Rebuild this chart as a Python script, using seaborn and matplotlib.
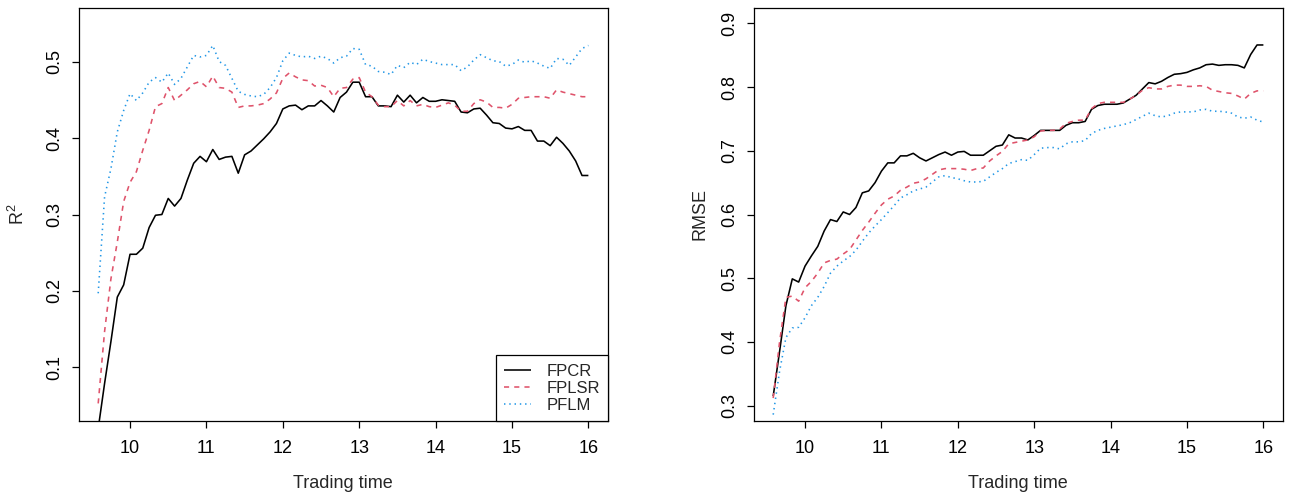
import numpy as np
import pandas as pd
import matplotlib
matplotlib.use("Agg")
import matplotlib.pyplot as plt
import seaborn as sns

# ---------------- data ----------------
# trading time grid: 9:35 to 16:00 every 5 minutes (decimal hours)
trading_time = np.arange(575, 961, 5) / 60.0

fpcr_r2 = [0.020, 0.079, 0.134, 0.192, 0.208, 0.248, 0.248, 0.256, 0.283, 0.299,
           0.300, 0.321, 0.311, 0.321, 0.345, 0.367, 0.376, 0.369, 0.385, 0.372,
           0.375, 0.376, 0.354, 0.378, 0.383, 0.391, 0.399, 0.408, 0.419, 0.438,
           0.442, 0.443, 0.437, 0.442, 0.442, 0.449, 0.442, 0.434, 0.453, 0.460,
           0.473, 0.473, 0.454, 0.454, 0.442, 0.442, 0.441, 0.456, 0.447, 0.456,
           0.446, 0.453, 0.448, 0.448, 0.450, 0.449, 0.448, 0.434, 0.433, 0.438,
           0.439, 0.430, 0.420, 0.419, 0.413, 0.412, 0.415, 0.410, 0.410, 0.396,
           0.396, 0.390, 0.401, 0.393, 0.383, 0.370, 0.351, 0.351]

fplsr_r2 = [0.053, 0.147, 0.216, 0.264, 0.317, 0.342, 0.356, 0.384, 0.410, 0.441,
            0.445, 0.466, 0.449, 0.456, 0.463, 0.471, 0.474, 0.467, 0.481, 0.466,
            0.465, 0.460, 0.440, 0.442, 0.442, 0.443, 0.445, 0.451, 0.459, 0.478,
            0.485, 0.480, 0.476, 0.475, 0.468, 0.469, 0.466, 0.454, 0.465, 0.466,
            0.477, 0.479, 0.460, 0.454, 0.443, 0.441, 0.441, 0.449, 0.442, 0.449,
            0.442, 0.444, 0.441, 0.440, 0.443, 0.446, 0.443, 0.435, 0.435, 0.445,
            0.450, 0.447, 0.440, 0.440, 0.439, 0.444, 0.452, 0.453, 0.454, 0.454,
            0.454, 0.452, 0.463, 0.460, 0.458, 0.456, 0.454, 0.454]

pflm_r2 = [0.197, 0.323, 0.360, 0.408, 0.436, 0.458, 0.449, 0.459, 0.473, 0.479,
           0.473, 0.485, 0.470, 0.478, 0.493, 0.508, 0.506, 0.508, 0.521, 0.500,
           0.495, 0.478, 0.461, 0.457, 0.455, 0.454, 0.457, 0.466, 0.479, 0.501,
           0.511, 0.508, 0.506, 0.507, 0.504, 0.507, 0.504, 0.498, 0.505, 0.507,
           0.517, 0.516, 0.496, 0.494, 0.487, 0.486, 0.483, 0.495, 0.492, 0.499,
           0.496, 0.503, 0.500, 0.498, 0.496, 0.496, 0.496, 0.488, 0.493, 0.502,
           0.509, 0.505, 0.501, 0.500, 0.494, 0.496, 0.502, 0.499, 0.501, 0.498,
           0.494, 0.491, 0.504, 0.503, 0.495, 0.506, 0.517, 0.521]

fpcr_rmse = [0.315, 0.385, 0.457, 0.499, 0.494, 0.519, 0.535, 0.550, 0.574, 0.592,
             0.589, 0.604, 0.600, 0.611, 0.634, 0.637, 0.650, 0.668, 0.681, 0.681,
             0.692, 0.692, 0.696, 0.689, 0.684, 0.689, 0.694, 0.698, 0.693, 0.698,
             0.699, 0.693, 0.693, 0.693, 0.700, 0.707, 0.709, 0.725, 0.720, 0.720,
             0.717, 0.724, 0.732, 0.732, 0.732, 0.732, 0.740, 0.744, 0.744, 0.746,
             0.765, 0.771, 0.773, 0.773, 0.773, 0.775, 0.781, 0.787, 0.797, 0.807,
             0.805, 0.809, 0.815, 0.820, 0.821, 0.823, 0.827, 0.830, 0.835, 0.836,
             0.834, 0.835, 0.835, 0.834, 0.830, 0.851, 0.866, 0.866]

fplsr_rmse = [0.312, 0.400, 0.470, 0.472, 0.464, 0.485, 0.495, 0.508, 0.524, 0.528,
              0.530, 0.538, 0.545, 0.560, 0.575, 0.588, 0.602, 0.615, 0.624, 0.629,
              0.638, 0.643, 0.649, 0.651, 0.656, 0.663, 0.670, 0.672, 0.672, 0.672,
              0.671, 0.669, 0.672, 0.673, 0.684, 0.692, 0.699, 0.711, 0.713, 0.715,
              0.717, 0.722, 0.731, 0.732, 0.732, 0.734, 0.743, 0.746, 0.748, 0.748,
              0.766, 0.774, 0.776, 0.776, 0.776, 0.776, 0.781, 0.787, 0.795, 0.799,
              0.797, 0.797, 0.801, 0.803, 0.803, 0.801, 0.801, 0.802, 0.801, 0.795,
              0.793, 0.791, 0.790, 0.786, 0.781, 0.790, 0.794, 0.794]

pflm_rmse = [0.286, 0.354, 0.407, 0.422, 0.423, 0.438, 0.457, 0.470, 0.487, 0.508,
             0.519, 0.527, 0.534, 0.544, 0.558, 0.571, 0.582, 0.592, 0.603, 0.614,
             0.626, 0.631, 0.637, 0.640, 0.643, 0.651, 0.659, 0.661, 0.658, 0.656,
             0.653, 0.651, 0.651, 0.652, 0.659, 0.666, 0.672, 0.680, 0.683, 0.686,
             0.685, 0.694, 0.704, 0.705, 0.705, 0.703, 0.711, 0.714, 0.714, 0.716,
             0.727, 0.732, 0.735, 0.737, 0.739, 0.741, 0.744, 0.749, 0.754, 0.759,
             0.755, 0.753, 0.755, 0.759, 0.761, 0.761, 0.761, 0.764, 0.765, 0.762,
             0.762, 0.761, 0.759, 0.753, 0.751, 0.753, 0.748, 0.745]

methods = ["FPCR", "FPLSR", "PFLM"]
x_ticks = [10, 11, 12, 13, 14, 15, 16]
r2_ticks = [0.1, 0.2, 0.3, 0.4, 0.5]
rmse_ticks = [0.3, 0.4, 0.5, 0.6, 0.7, 0.8, 0.9]

# ---------------- style ----------------
sns.set_style("ticks")
plt.rcParams["font.family"] = ["Liberation Sans", "DejaVu Sans"]
plt.rcParams["mathtext.fontset"] = "custom"
plt.rcParams["mathtext.rm"] = "Liberation Sans"
plt.rcParams["mathtext.it"] = "Liberation Sans:italic"

colors = {"FPCR": "black", "FPLSR": "#DF536B", "PFLM": "#2297E6"}
dash_patterns = {"FPCR": None, "FPLSR": (3.2, 3.2), "PFLM": (0.9, 2.4)}
LW = 1.15
FS = 13

W, H = 1291, 495
fig = plt.figure(figsize=(W / 100, H / 100), dpi=100)
ax1 = fig.add_axes([78.6 / W, (H - 421) / H, 529.4 / W, 413 / H])
ax2 = fig.add_axes([753.6 / W, (H - 421) / H, 529.4 / W, 413 / H])


def draw(ax, series, ylim, yticks, ylabel, ylabelpad):
    for name in methods:
        df = pd.DataFrame({"time": trading_time, "value": series[name]})
        sns.lineplot(data=df, x="time", y="value", ax=ax, color=colors[name],
                     linewidth=LW, label=name, legend=False)
        line = ax.lines[-1]
        if dash_patterns[name] is not None:
            line.set_dashes(dash_patterns[name])
        line.set_solid_capstyle("butt")
        line.set_dash_capstyle("butt")
    ax.set_xlim(9.3267, 16.2567)
    r = ylim[1] - ylim[0]
    ax.set_ylim(ylim[0] - 0.04 * r, ylim[1] + 0.04 * r)
    ax.set_xticks(x_ticks)
    ax.set_xticklabels([str(t) for t in x_ticks])
    ax.set_yticks(yticks)
    ax.set_yticklabels([f"{t:.1f}" for t in yticks])
    for s in ax.spines.values():
        s.set_visible(True)
        s.set_linewidth(0.9)
        s.set_color("black")
    ax.tick_params(axis="both", direction="out", length=5, width=0.9,
                   colors="black", labelsize=FS, pad=9)
    ax.tick_params(axis="y", pad=6)
    for lab in ax.get_yticklabels():
        lab.set_rotation(90)
        lab.set_va("center")
        lab.set_ha("right")
    ax.set_xlabel("Trading time", fontsize=FS, labelpad=13)
    ax.set_ylabel(ylabel, fontsize=FS, labelpad=ylabelpad)
    ax.grid(False)


draw(ax1, {"FPCR": fpcr_r2, "FPLSR": fplsr_r2, "PFLM": pflm_r2},
     (0.05, 0.55), r2_ticks, r"$\mathrm{R}^2$", 13)
draw(ax2, {"FPCR": fpcr_rmse, "FPLSR": fplsr_rmse, "PFLM": pflm_rmse},
     (0.3, 0.9), rmse_ticks, "RMSE", 9)

handles = ax1.lines[:3]
leg = ax1.legend(handles, methods, loc="lower right", bbox_to_anchor=(1, 0),
                 borderaxespad=0, frameon=True, fancybox=False,
                 edgecolor="black", framealpha=1, fontsize=12,
                 handlelength=1.6, handletextpad=0.9, borderpad=0.5,
                 labelspacing=0.12)
leg.get_frame().set_linewidth(0.9)

fig.savefig("out.png", dpi=100)
